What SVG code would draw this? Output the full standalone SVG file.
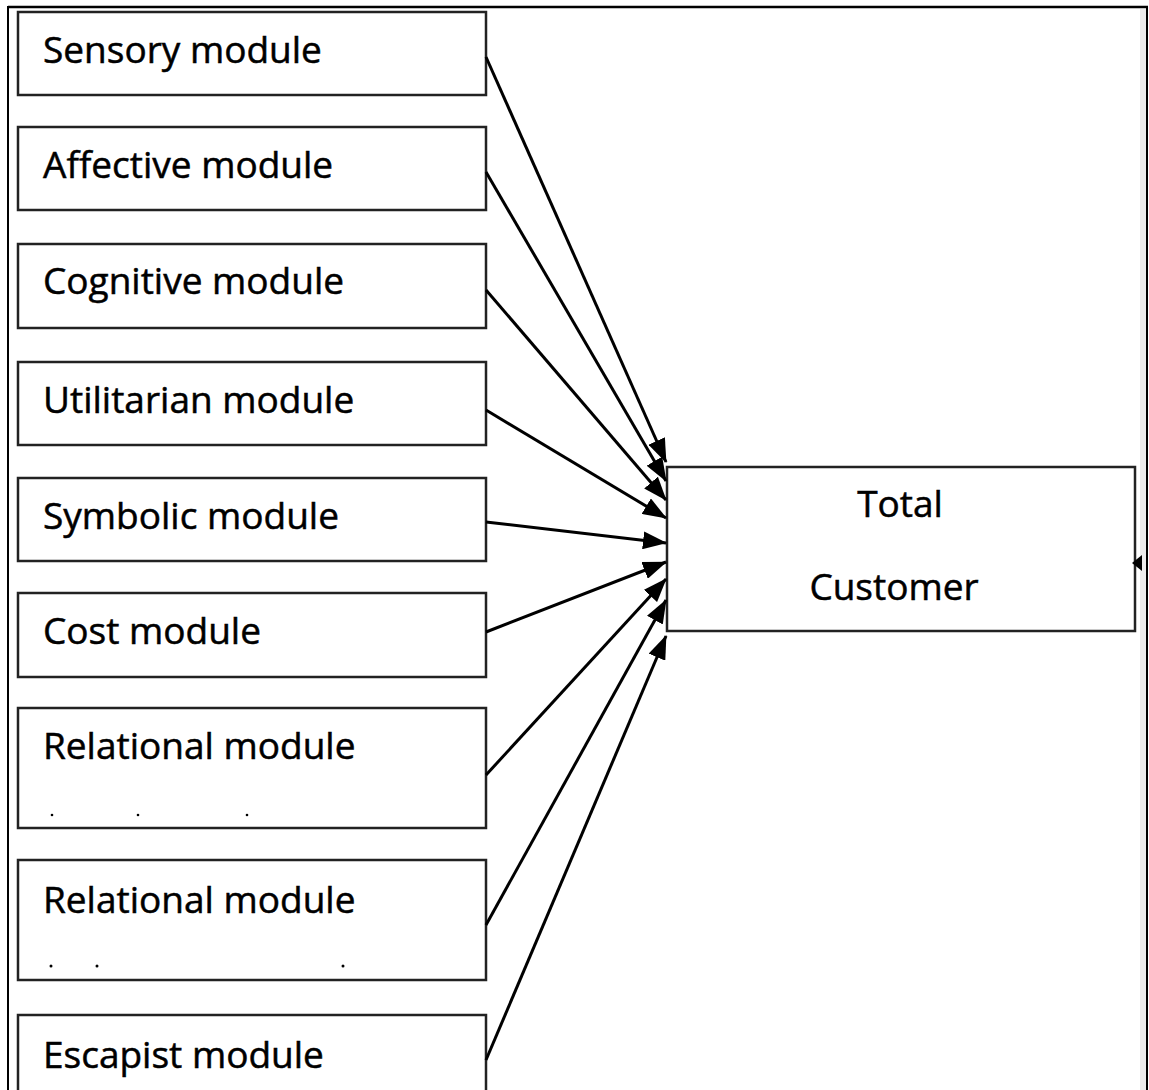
<svg xmlns="http://www.w3.org/2000/svg" width="1149" height="1090" viewBox="0 0 1149 1090">
<style>
.box{fill:#fff;stroke:#222;stroke-width:2.5}
.lbl{font-family:"Open Sans","Noto Sans",sans-serif;font-size:37px;fill:#000;stroke:#000;stroke-width:0.5}
.conn{stroke:#000;stroke-width:3;fill:none}
.dot{fill:#000}
</style>
<defs>
<marker id="ah" markerUnits="userSpaceOnUse" markerWidth="24" markerHeight="18" refX="23" refY="9" orient="auto">
<path d="M0,0 L24,9 L0,18 z" fill="#000"/>
</marker>
</defs>
<rect width="1149" height="1090" fill="#fff"/>
<g id="frame">
<rect x="1140" y="9" width="6" height="1081" fill="#ececec"/>
<line x1="8" y1="7" x2="1148" y2="7" stroke="#000" stroke-width="2.5"/>
<line x1="8" y1="6" x2="8" y2="1090" stroke="#000" stroke-width="2"/>
<line x1="1147" y1="6" x2="1147" y2="1090" stroke="#000" stroke-width="2"/>
</g>
<g id="n-sensory"><rect class="box" x="18" y="12" width="468" height="83"/><text class="lbl" x="43" y="63">Sensory module</text></g>
<g id="n-affective"><rect class="box" x="18" y="127" width="468" height="83"/><text class="lbl" x="43" y="178">Affective module</text></g>
<g id="n-cognitive"><rect class="box" x="18" y="244" width="468" height="84"/><text class="lbl" x="43" y="294">Cognitive module</text></g>
<g id="n-utilitarian"><rect class="box" x="18" y="362" width="468" height="83"/><text class="lbl" x="43" y="413">Utilitarian module</text></g>
<g id="n-symbolic"><rect class="box" x="18" y="478" width="468" height="83"/><text class="lbl" x="43" y="529">Symbolic module</text></g>
<g id="n-cost"><rect class="box" x="18" y="593" width="468" height="84"/><text class="lbl" x="43" y="644">Cost module</text></g>
<g id="n-relational1"><rect class="box" x="18" y="708" width="468" height="120"/><text class="lbl" x="43" y="759">Relational module</text>
<circle class="dot" cx="52" cy="815" r="1.3"/><circle class="dot" cx="138" cy="815" r="1.3"/><circle class="dot" cx="247" cy="815" r="1.3"/></g>
<g id="n-relational2"><rect class="box" x="18" y="860" width="468" height="120"/><text class="lbl" x="43" y="913">Relational module</text>
<circle class="dot" cx="51" cy="966" r="1.5"/><circle class="dot" cx="97" cy="966" r="1.5"/><circle class="dot" cx="343" cy="966" r="1.5"/></g>
<g id="n-escapist"><rect class="box" x="18" y="1015" width="468" height="90"/><text class="lbl" x="43" y="1068">Escapist module</text></g>
<g id="n-total"><rect class="box" x="667" y="467" width="468" height="164"/>
<text class="lbl" x="900" y="517" text-anchor="middle">Total</text>
<text class="lbl" x="894" y="600" text-anchor="middle">Customer</text>
<path d="M1132,563 L1142,555 L1142,571 z" fill="#000"/></g>
<g id="connectors">
<line class="conn" x1="486" y1="57" x2="666" y2="462" marker-end="url(#ah)"/>
<line class="conn" x1="486" y1="172" x2="666" y2="481" marker-end="url(#ah)"/>
<line class="conn" x1="486" y1="290" x2="666" y2="500" marker-end="url(#ah)"/>
<line class="conn" x1="486" y1="410" x2="666" y2="518" marker-end="url(#ah)"/>
<line class="conn" x1="486" y1="522" x2="666" y2="543" marker-end="url(#ah)"/>
<line class="conn" x1="486" y1="632" x2="666" y2="562" marker-end="url(#ah)"/>
<line class="conn" x1="486" y1="775" x2="666" y2="579" marker-end="url(#ah)"/>
<line class="conn" x1="486" y1="925" x2="666" y2="600" marker-end="url(#ah)"/>
<line class="conn" x1="486" y1="1060" x2="666" y2="636" marker-end="url(#ah)"/>
</g>
</svg>
